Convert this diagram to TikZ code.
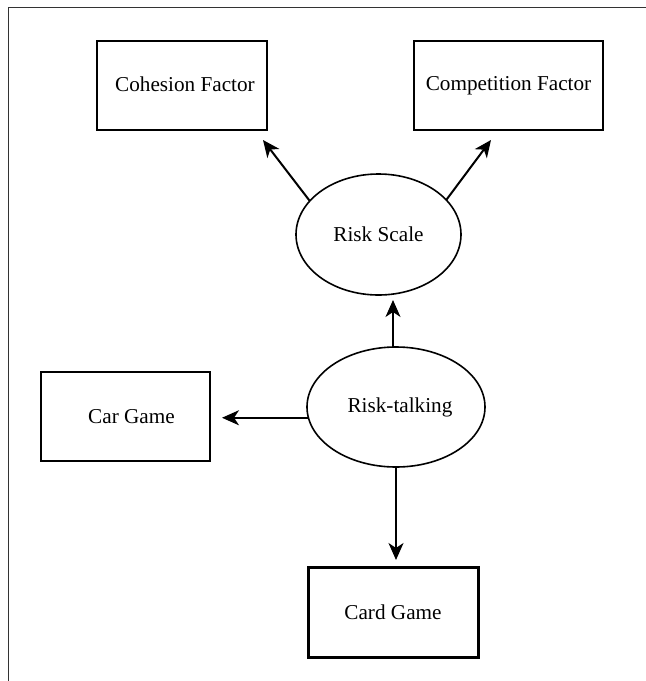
\documentclass[tikz,border=0pt]{standalone}
\usepackage{fontspec}
\setmainfont{Liberation Serif}
\usepackage{tikz}
\usetikzlibrary{arrows.meta,shapes.geometric}

\begin{document}
\begin{tikzpicture}[x=0.5pt,y=-0.5pt,
    factorbox/.style={draw,line width=0.8pt,inner sep=0pt,outer sep=0pt,minimum height=44.5pt},
    scalenode/.style={draw,ellipse,line width=0.8pt,inner sep=0pt,outer sep=0pt},
    link/.style={-{Stealth[length=8.5pt,width=7.5pt,inset=2.5pt]},line width=1pt}]
  \useasboundingbox (0,0) rectangle (646,681);
  \fontsize{10.6}{12.7}\selectfont
  \draw[gray!40!black,line width=0.8pt] (646,7.5) -- (8.5,7.5) -- (8.5,681);
  \node[factorbox,minimum width=85pt] (coh) at (182,85.5) {\raisebox{1pt}{\hspace{3pt}Cohesion Factor}};
  \node[factorbox,minimum width=94.5pt] (comp) at (508.5,85.5) {\raisebox{1pt}{Competition Factor}};
  \node[scalenode,minimum width=82.5pt,minimum height=60.5pt] (rs) at (378.5,234.5) {Risk Scale};
  \node[scalenode,minimum width=89pt,minimum height=60pt] (rt) at (396,407) {\hspace{4pt}Risk-talking};
  \node[factorbox,minimum width=84.5pt] (car) at (125.5,416.5) {\hspace{6pt}Car Game};
  \node[factorbox,minimum width=85pt,minimum height=45pt,line width=1.5pt] (card) at (393,612) {Card Game};
  \draw[link] (rs.154) -- ([xshift=-2pt,yshift=-5pt]coh.south east);
  \draw[link] (rs.27) -- ([xshift=-8.75pt,yshift=-5pt]comp.south);
  \draw[link] ([xshift=-1.5pt]rt.north) -- ([xshift=7.25pt,yshift=-2.5pt]rs.south);
  \draw[link] (rt.187) -- ([xshift=6pt]car.east |- rt.187);
  \draw[link] (rt.south) -- ([yshift=3.5pt]card.north -| rt.south);
\end{tikzpicture}
\end{document}
